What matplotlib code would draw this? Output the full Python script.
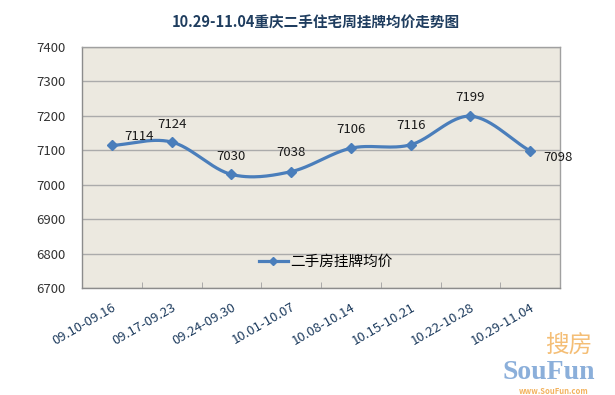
import matplotlib
matplotlib.use("Agg")
import matplotlib.pyplot as plt
import numpy as np

plt.rcParams["font.family"] = ["Noto Sans CJK SC", "DejaVu Sans"]

title = "10.29-11.04重庆二手住宅周挂牌均价走势图"
weeks = ["09.10-09.16", "09.17-09.23", "09.24-09.30", "10.01-10.07",
         "10.08-10.14", "10.15-10.21", "10.22-10.28", "10.29-11.04"]
prices = [7114, 7124, 7030, 7038, 7106, 7116, 7199, 7098]
series_name = "二手房挂牌均价"
y_ticks = [6700, 6800, 6900, 7000, 7100, 7200, 7300, 7400]

# label offsets in pixels (dx, dy) relative to the marker
label_offsets = [(12, 9), (0, 18), (0, 18), (0, 19), (0, 19), (0, 19), (0, 19), (13, -7)]
label_ha = ["left", "center", "center", "center", "center", "center", "center", "left"]


def smooth(x, y, steps=30):
    # Catmull-Rom curve through the points, similar to Excel's smoothed line
    x = np.asarray(x, float)
    y = np.asarray(y, float)
    px = np.concatenate([[2 * x[0] - x[1]], x, [2 * x[-1] - x[-2]]])
    py = np.concatenate([[2 * y[0] - y[1]], y, [2 * y[-1] - y[-2]]])
    xs, ys = [], []
    t = np.linspace(0, 1, steps)
    for i in range(1, len(px) - 2):
        for p, out in ((px, xs), (py, ys)):
            p0, p1, p2, p3 = p[i - 1], p[i], p[i + 1], p[i + 2]
            out.extend(0.5 * ((2 * p1) + (-p0 + p2) * t
                              + (2 * p0 - 5 * p1 + 4 * p2 - p3) * t ** 2
                              + (-p0 + 3 * p1 - 3 * p2 + p3) * t ** 3))
    return np.array(xs), np.array(ys)


fig = plt.figure(figsize=(6.15, 3.95), dpi=100)
ax = fig.add_axes([82 / 615, 1 - 288 / 395, 478 / 615, 241 / 395])
ax.set_facecolor("#ECE9E0")

line_color = "#4A7EBB"
x = np.arange(len(weeks))
sx, sy = smooth(x, prices)
ax.plot(sx, sy, color=line_color, lw=2.3, solid_capstyle="round", zorder=3)
ax.plot(x, prices, ls="none", marker="D", ms=5.5, color=line_color, zorder=4)
ax.plot([], [], color=line_color, lw=2.3, marker="D", ms=4, label=series_name)

for i, v in enumerate(prices):
    dx, dy = label_offsets[i]
    ax.annotate(str(v), (i, v), xytext=(dx * 0.72, dy * 0.72), textcoords="offset points",
                ha=label_ha[i], va="center", fontsize=9.5, color="#1a1a1a")

ax.set_xlim(-0.5, len(weeks) - 0.5)
ax.set_ylim(6700, 7400)
ax.set_yticks(y_ticks)
ax.yaxis.grid(True, color="#ABABAB", lw=1)
ax.set_axisbelow(True)
ax.tick_params(axis="y", length=0, labelsize=9.5, labelcolor="#333333", pad=12)

ax.set_xticks(x)
ax.set_xticklabels(weeks, rotation=30, ha="right", rotation_mode="anchor",
                   fontsize=9.5, color="#1F3D5F")
ax.tick_params(axis="x", length=0, pad=9)
ax.set_xticks(np.arange(0.5, len(weeks) - 0.5), minor=True)
ax.tick_params(axis="x", which="minor", direction="in", length=4, color="#A0A0A0")

for s in ax.spines.values():
    s.set_color("#A0A0A0")
    s.set_linewidth(1)
ax.spines["left"].set_color("#8C8C8C")
ax.spines["bottom"].set_color("#8C8C8C")

ax.legend(loc="lower center", bbox_to_anchor=(0.51, 0.025), frameon=False,
          fontsize=10.5, handlelength=2.0, handletextpad=0.2)

fig.text(0.513, 0.945, title, ha="center", va="center", fontsize=10.5,
         fontweight="bold", color="#1F3D5F")

# SouFun watermark
fig.text(0.925, 0.125, "搜房", ha="center", va="center", fontsize=17,
         color="#F3B35E", alpha=0.85)
fig.text(0.893, 0.058, "SouFun", ha="center", va="center", fontsize=20,
         family="Liberation Serif", fontweight="bold", color="#7FA6D6", alpha=0.9)
fig.text(0.9, 0.008, "www.SouFun.com", ha="center", va="center", fontsize=5.5,
         fontweight="bold", color="#F3B35E")

fig.savefig("out.png", dpi=100)
